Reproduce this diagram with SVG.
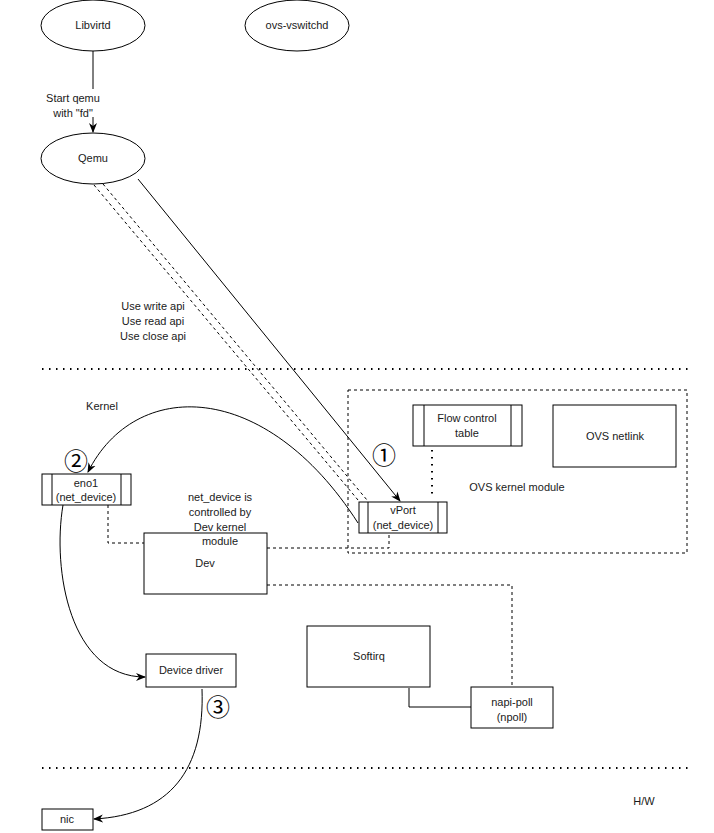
<svg xmlns="http://www.w3.org/2000/svg" width="714" height="833" viewBox="0 0 714 833">
<defs>
<marker id="arr" markerWidth="10" markerHeight="10" viewBox="0 0 10 10" refX="9" refY="5" orient="auto" markerUnits="userSpaceOnUse">
<path d="M0,1 L10,5 L0,9 L3,5 Z" fill="#000"/>
</marker>
<style>
.s{fill:#fff;stroke:#000;stroke-width:1}
.l{fill:none;stroke:#000;stroke-width:1}
.d{fill:none;stroke:#000;stroke-width:1;stroke-dasharray:3 3}
.o{fill:none;stroke:#000;stroke-width:2;stroke-dasharray:1.5 5.5}
text{font-family:"Liberation Sans",Arial,sans-serif;font-size:11px;fill:#1a1a1a;text-anchor:middle}
.c{font-family:"Noto Sans CJK JP","Noto Sans CJK SC",sans-serif;font-size:24px;fill:#000}
</style>
</defs>
<rect width="714" height="833" fill="#fff"/>
<g id="separators">
<line class="o" x1="42" y1="369" x2="690" y2="369"/>
<line class="o" x1="42" y1="768" x2="690" y2="768"/>
</g>
<g id="ovs-kernel-module">
<rect class="d" x="348" y="390" width="339" height="163"/>
<text x="517" y="491">OVS kernel module</text>
</g>
<g id="connectors">
<line class="l" x1="93" y1="51" x2="93" y2="132" marker-end="url(#arr)"/>
<rect x="40" y="89" width="66" height="28" fill="#fff"/>
<line class="d" x1="94" y1="185" x2="358" y2="500"/>
<line class="d" x1="103" y1="184" x2="367" y2="500"/>
<line class="l" x1="138" y1="179" x2="400" y2="501" marker-end="url(#arr)"/>
<path class="l" d="M358,523 C265,378 135,378 88,472" marker-end="url(#arr)"/>
<path class="l" d="M63,505 C52,570 70,677 145,677" marker-end="url(#arr)"/>
<path class="l" d="M202,689 C205,770 170,815 94,819" marker-end="url(#arr)"/>
<polyline class="d" points="108,505 108,543 144,543"/>
<polyline class="d" points="267,548 389,548 389,533"/>
<polyline class="d" points="267,585 512,585 512,687"/>
<line class="o" x1="432" y1="450" x2="432" y2="497"/>
<polyline class="l" points="409,688 409,707 471,707"/>
</g>
<g id="libvirtd">
<ellipse class="s" cx="93" cy="25.5" rx="52" ry="25.5"/>
<text x="93" y="29">Libvirtd</text>
</g>
<g id="ovs-vswitchd">
<ellipse class="s" cx="297" cy="25.5" rx="52" ry="25.5"/>
<text x="297" y="29">ovs-vswitchd</text>
</g>
<g id="qemu">
<ellipse class="s" cx="93" cy="158.5" rx="52" ry="25.5"/>
<text x="93" y="162">Qemu</text>
</g>
<g id="eno1">
<rect class="s" x="42" y="474" width="89" height="31"/>
<line class="l" x1="52" y1="474" x2="52" y2="505"/>
<line class="l" x1="121" y1="474" x2="121" y2="505"/>
<text x="86" y="487">eno1</text>
<text x="86" y="501">(net_device)</text>
</g>
<g id="vport">
<rect class="s" x="359" y="502" width="88" height="31"/>
<line class="l" x1="368" y1="502" x2="368" y2="533"/>
<line class="l" x1="438" y1="502" x2="438" y2="533"/>
<text x="403" y="514">vPort</text>
<text x="403" y="529">(net_device)</text>
</g>
<g id="flow-control-table">
<rect class="s" x="413" y="405" width="109" height="41"/>
<line class="l" x1="424" y1="405" x2="424" y2="446"/>
<line class="l" x1="511" y1="405" x2="511" y2="446"/>
<text x="467" y="422">Flow control</text>
<text x="467" y="437">table</text>
</g>
<g id="ovs-netlink">
<rect class="s" x="553" y="405" width="123" height="62"/>
<text x="615" y="440">OVS netlink</text>
</g>
<g id="dev">
<rect class="s" x="144" y="533" width="123" height="61"/>
<text x="205" y="567">Dev</text>
</g>
<g id="device-driver">
<rect class="s" x="146" y="654" width="90" height="33"/>
<text x="191" y="674">Device driver</text>
</g>
<g id="softirq">
<rect class="s" x="307" y="626" width="123" height="61"/>
<text x="369" y="660">Softirq</text>
</g>
<g id="napi-poll">
<rect class="s" x="471" y="687" width="82" height="41"/>
<text x="512" y="706">napi-poll</text>
<text x="512" y="721">(npoll)</text>
</g>
<g id="nic">
<rect class="s" x="42" y="809" width="51" height="21"/>
<text x="67" y="823">nic</text>
</g>
<g id="labels">
<text x="73" y="102">Start qemu</text>
<text x="73" y="117">with "fd"</text>
<text x="153" y="310">Use write api</text>
<text x="153" y="325">Use read api</text>
<text x="153" y="340">Use close api</text>
<text x="102" y="410">Kernel</text>
<text x="220" y="501">net_device is</text>
<text x="220" y="516">controlled by</text>
<text x="220" y="531">Dev kernel</text>
<text x="220" y="545">module</text>
<text x="644" y="805">H/W</text>
<text class="c" x="384" y="464">①</text>
<text class="c" x="76" y="470">②</text>
<text class="c" x="218" y="716">③</text>
</g>
</svg>
